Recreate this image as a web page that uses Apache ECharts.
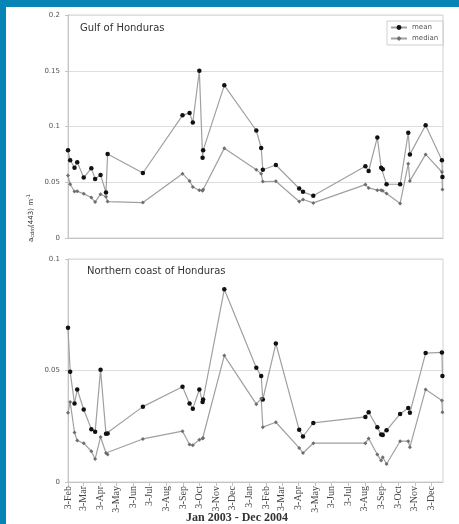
<!DOCTYPE html>
<html>
<head>
<meta charset="utf-8">
<script src="https://cdn.jsdelivr.net/npm/echarts@6/dist/echarts.min.js"></script>
<style>
  html, body { margin: 0; padding: 0; background: #0784b6; }
  #sheet { position: absolute; left: 6px; top: 7px; width: 453px; height: 517px; background: #ffffff; }
  #chart { position: absolute; left: 0; top: 0; width: 459px; height: 524px; }
</style>
</head>
<body>
<div id="sheet"></div>
<div id="chart"></div>
<script>
// Sampling dates shared by both regions
const sampleDates = [
  '2003-02-03', '2003-02-07', '2003-02-15', '2003-02-20', '2003-03-04',
  '2003-03-18', '2003-03-25', '2003-04-04', '2003-04-14', '2003-04-17',
  '2003-06-21', '2003-09-02', '2003-09-15', '2003-09-21', '2003-10-03',
  '2003-10-09', '2003-10-10', '2003-11-18', '2004-01-16', '2004-01-25',
  '2004-01-28', '2004-02-21', '2004-04-04', '2004-04-11', '2004-04-30',
  '2004-08-04', '2004-08-10', '2004-08-26', '2004-09-02', '2004-09-05',
  '2004-09-12', '2004-10-07', '2004-10-22', '2004-10-25', '2004-11-23',
  '2004-12-23', '2004-12-24'
];

// Gulf of Honduras, acdm(443) in m^-1
const gulfMean = [
  0.0786, 0.0697, 0.0631, 0.0679, 0.0542, 0.0625, 0.0530, 0.0566, 0.0408, 0.0753,
  0.0583, 0.1100, 0.1122, 0.1036, 0.1500, 0.0720, 0.0786, 0.1369, 0.0964, 0.0807,
  0.0612, 0.0655, 0.0444, 0.0414, 0.0378, 0.0643, 0.0601, 0.0902, 0.0631, 0.0616,
  0.0482, 0.0482, 0.0944, 0.0750, 0.1012, 0.0697, 0.0548
];
const gulfMedian = [
  0.0560, 0.0482, 0.0417, 0.0420, 0.0396, 0.0363, 0.0322, 0.0393, 0.0370, 0.0327,
  0.0318, 0.0577, 0.0512, 0.0458, 0.0429, 0.0423, 0.0435, 0.0804, 0.0613, 0.0577,
  0.0506, 0.0509, 0.0327, 0.0345, 0.0315, 0.0479, 0.0449, 0.0429, 0.0429, 0.0423,
  0.0399, 0.0310, 0.0667, 0.0512, 0.0750, 0.0592, 0.0434
];

// Northern coast of Honduras
const coastMean = [
  0.0692, 0.0494, 0.0352, 0.0415, 0.0325, 0.0237, 0.0225, 0.0503, 0.0216, 0.0217,
  0.0338, 0.0427, 0.0352, 0.0329, 0.0415, 0.0359, 0.0370, 0.0864, 0.0512, 0.0475,
  0.0370, 0.0621, 0.0234, 0.0204, 0.0265, 0.0292, 0.0313, 0.0245, 0.0213, 0.0211,
  0.0232, 0.0305, 0.0332, 0.0310, 0.0578, 0.0581, 0.0475
];
const coastMedian = [
  0.0310, 0.0359, 0.0222, 0.0186, 0.0174, 0.0138, 0.0103, 0.0202, 0.0130, 0.0123,
  0.0193, 0.0228, 0.0168, 0.0165, 0.0190, 0.0195, 0.0197, 0.0567, 0.0349, 0.0374,
  0.0246, 0.0268, 0.0153, 0.0130, 0.0174, 0.0174, 0.0195, 0.0123, 0.0096, 0.0111,
  0.0081, 0.0183, 0.0183, 0.0156, 0.0415, 0.0365, 0.0313
];

// Monthly date-axis labels, one on the 3rd of each month from Feb 2003
const tickLabels = [
  '3-Feb', '3-Mar', '3-Apr', '3-May', '3-Jun', '3-Jul', '3-Aug', '3-Sep',
  '3-Oct', '3-Nov', '3-Dec', '3-Jan', '3-Feb', '3-Mar', '3-Apr', '3-May',
  '3-Jun', '3-Jul', '3-Aug', '3-Sep', '3-Oct', '3-Nov', '3-Dec'
];

const DAY = 86400000;
const T0 = Date.UTC(2003, 1, 3);
const dayOf = s => (Date.parse(s + 'T00:00:00Z') - T0) / DAY;
const xDays = sampleDates.map(dayOf);
const tickDays = tickLabels.map((_, i) => (Date.UTC(2003, 1 + i, 3) - T0) / DAY);
const X_MAX = dayOf('2004-12-25');

const pairs = vals => vals.map((v, i) => [xDays[i], v]);

const LINE = '#a0a0a0';
const AXIS = '#c4c4c4';

function xAxisFor(gridIndex, withLabels) {
  return {
    type: 'value', gridIndex, min: 0, max: X_MAX,
    axisLine: { show: true, lineStyle: { color: AXIS } },
    axisTick: withLabels
      ? { show: true, length: 4, lineStyle: { color: AXIS }, customValues: tickDays }
      : { show: false },
    axisLabel: withLabels
      ? {
          show: true, rotate: 90, fontSize: 10, color: '#444',
          fontFamily: 'Liberation Serif', margin: 4,
          customValues: tickDays,
          formatter: v => {
            const i = tickDays.findIndex(d => Math.abs(d - v) < 0.01);
            return i >= 0 ? tickLabels[i] : '';
          }
        }
      : { show: false },
    splitLine: { show: false }
  };
}

function yAxisFor(gridIndex, max) {
  return {
    type: 'value', gridIndex, min: 0, max, interval: 0.05,
    axisLine: { show: true, lineStyle: { color: AXIS } },
    axisTick: { show: true, length: 3, lineStyle: { color: AXIS } },
    axisLabel: { fontSize: 7, color: '#555', margin: 8, fontFamily: 'DejaVu Sans',
      formatter: v => String(+v.toFixed(2)) },
    splitLine: { show: true, lineStyle: { color: '#dedede', width: 1 } }
  };
}

function meanSeries(name, data, idx) {
  return {
    name, type: 'line', xAxisIndex: idx, yAxisIndex: idx, data: pairs(data),
    symbol: 'circle', symbolSize: 4.5, showAllSymbol: true,
    itemStyle: { color: '#111' },
    lineStyle: { color: LINE, width: 1.2 }, animation: false
  };
}
function medianSeries(name, data, idx) {
  return {
    name, type: 'line', xAxisIndex: idx, yAxisIndex: idx, data: pairs(data),
    symbol: 'diamond', symbolSize: 4, showAllSymbol: true,
    itemStyle: { color: '#6e6e6e' },
    lineStyle: { color: LINE, width: 1.2 }, animation: false
  };
}

const chart = echarts.init(document.getElementById('chart'), null, { renderer: 'canvas' });
chart.setOption({
  backgroundColor: 'transparent',
  animation: false,
  grid: [
    { left: 68, top: 15, width: 375, height: 223, show: true, borderColor: '#d2d2d2', borderWidth: 1 },
    { left: 68, top: 259, width: 375, height: 223, show: true, borderColor: '#d2d2d2', borderWidth: 1 }
  ],
  xAxis: [xAxisFor(0, false), xAxisFor(1, true)],
  yAxis: [yAxisFor(0, 0.2), yAxisFor(1, 0.1)],
  legend: {
    data: ['mean', 'median'], orient: 'vertical', left: 387, top: 21,
    borderColor: '#cfcfcf', borderWidth: 1, padding: [3, 5, 3, 3],
    itemWidth: 16, itemHeight: 6, itemGap: 4,
    textStyle: { fontSize: 7, color: '#555', fontFamily: 'DejaVu Sans' }
  },
  graphic: [
    { type: 'text', left: 80, top: 23,
      style: { text: 'Gulf of Honduras', fontSize: 10, fill: '#333', fontFamily: 'DejaVu Sans' } },
    { type: 'text', left: 87, top: 266,
      style: { text: 'Northern coast of Honduras', fontSize: 10, fill: '#333', fontFamily: 'DejaVu Sans' } },
    { type: 'text', x: 237, y: 518,
      style: { text: 'Jan 2003 - Dec 2004', fontSize: 12, fontWeight: 'bold', fill: '#333',
        fontFamily: 'Liberation Serif', align: 'center', verticalAlign: 'middle' } },
    { type: 'text', x: 31, y: 218, rotation: Math.PI / 2,
      style: {
        text: '{a|a}{s|cdm}{a|(443) m}{p|-1}',
        align: 'center', verticalAlign: 'middle', fill: '#333',
        rich: {
          a: { fontSize: 7, fill: '#333', fontFamily: 'DejaVu Sans' },
          s: { fontSize: 5, fill: '#333', fontFamily: 'DejaVu Sans', padding: [4, 0, 0, 0] },
          p: { fontSize: 5, fill: '#333', fontFamily: 'DejaVu Sans', padding: [0, 0, 5, 0] }
        }
      } }
  ],
  series: [
    meanSeries('mean', gulfMean, 0),
    medianSeries('median', gulfMedian, 0),
    meanSeries('mean', coastMean, 1),
    medianSeries('median', coastMedian, 1)
  ]
});
</script>
</body>
</html>
